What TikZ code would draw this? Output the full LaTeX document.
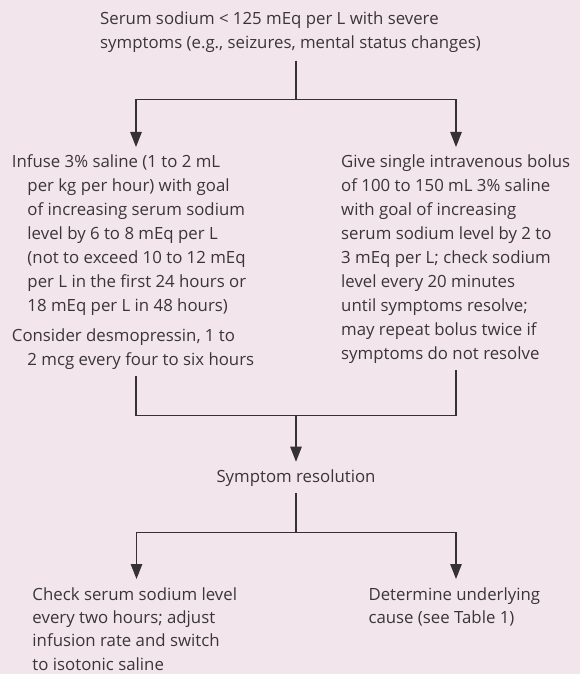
\documentclass[tikz,border=0pt]{standalone}
\usepackage{fontspec}
\setmainfont{Open Sans}
\usetikzlibrary{arrows.meta}
\definecolor{bgpink}{HTML}{F3E5EC}
\definecolor{txt}{HTML}{3A3637}
\definecolor{ln}{HTML}{363233}
\begin{document}
\begin{tikzpicture}[x=1bp,y=-1bp,
  txtblock/.style={anchor=north west, inner sep=0pt, align=left, text=txt,
    font=\fontsize{16.8bp}{24bp}\selectfont},
  conn/.style={draw=ln, line width=1.1bp},
  arr/.style={conn, -{Triangle[length=15bp,width=11.5bp]}}]
\fill[bgpink] (0,0) rectangle (580,674);
\useasboundingbox (0,0) rectangle (580,674);

\node[txtblock] (top) at (100,7.7) {\strut Serum sodium < 125 mEq per L with severe\\
symptoms (e.g., seizures, mental status changes)};

\node[txtblock] (left) at (11.7,150.2) {\strut Infuse 3\% saline (1 to 2 mL\\
\hspace*{15.6bp}per kg per hour) with goal\\
\hspace*{15.6bp}of increasing serum sodium\\
\hspace*{15.6bp}level by 6 to 8 mEq per L\\
\hspace*{15.6bp}(not to exceed 10 to 12 mEq\\
\hspace*{15.6bp}per L in the first 24 hours or\\
\hspace*{15.6bp}18 mEq per L in 48 hours)\\[6.7bp]
Consider desmopressin, 1 to\\
\hspace*{15.6bp}2 mcg every four to six hours};

\node[txtblock] (right) at (341,150.2) {\strut Give single intravenous bolus\\
of 100 to 150 mL 3\% saline\\
with goal of increasing\\
serum sodium level by 2 to\\
3 mEq per L; check sodium\\
level every 20 minutes\\
until symptoms resolve;\\
may repeat bolus twice if\\
symptoms do not resolve};

\node[txtblock, anchor=north, align=center] (sym) at (296,465.5) {\strut Symptom resolution};

\node[txtblock, font=\fontsize{16.8bp}{23.4bp}\selectfont] (bl) at (32.3,583.6) {\strut Check serum sodium level\\
every two hours; adjust\\
infusion rate and switch\\
to isotonic saline};

\node[txtblock, font=\fontsize{16.8bp}{23.4bp}\selectfont] (br) at (368.3,583.6) {\strut Determine underlying\\
cause (see Table 1)};

% first split
\coordinate (t0) at (296,60.7);
\coordinate (j1) at (296,99.3);
\coordinate (j1l) at (136,99.3);
\coordinate (j1r) at (456,99.3);
\draw[conn] (t0) -- (j1);
\draw[arr, shorten >=3.2bp] (j1) -| (j1l |- left.north);
\draw[arr, shorten >=3.2bp] (j1) -| (j1r |- right.north);

% merge
\coordinate (lb) at (136,376);
\coordinate (rb) at (456,370);
\coordinate (m) at (296,415.3);
\draw[conn] (lb) |- (m);
\draw[conn] (rb) |- (m);
\draw[arr, shorten >=3.8bp] (m) -- (sym.north);

% second split
\coordinate (s0) at (296,493.3);
\coordinate (j2) at (296,532.7);
\coordinate (j2l) at (136.5,532.7);
\coordinate (j2r) at (456,532.7);
\draw[conn] (s0) -- (j2);
\draw[arr, shorten >=4.6bp] (j2) -| (j2l |- bl.north);
\draw[arr, shorten >=4.6bp] (j2) -| (j2r |- br.north);
\end{tikzpicture}
\end{document}
